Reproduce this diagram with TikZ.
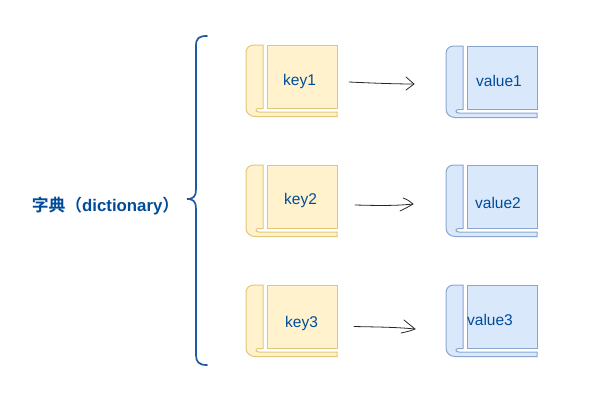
\documentclass[tikz,border=0pt]{standalone}
\usepackage{fontspec}
\setmainfont{Liberation Sans}
\newfontfamily\cjkfont{Noto Sans CJK SC}[BoldFont={* Bold}]
\definecolor{txtblue}{HTML}{004C99}
\definecolor{bracec}{HTML}{1F5A9E}
\definecolor{yfill}{HTML}{FFF2CC}
\definecolor{yline}{HTML}{E3C777}
\definecolor{bfill}{HTML}{DAE8FC}
\definecolor{bline}{HTML}{8AA6CE}
\tikzset{
  x=1pt,y=-1pt,
  yellowbook/.style={fill=yfill,draw=yline,line width=1pt},
  bluebook/.style={fill=bfill,draw=bline,line width=1pt},
  label text/.style={font=\fontsize{15.5}{18}\selectfont,text=txtblue,inner sep=0pt},
  title text/.style={font=\fontsize{16.8}{19}\selectfont\bfseries,text=txtblue,inner sep=0pt},
  hand arrow/.style={draw=black!85,line width=0.8pt,line cap=round,line join=round},
  bracket/.style={draw=bracec,line width=1.7pt,line cap=round},
  pics/book/.style={code={
    \path[#1] (17,0) -- (8,0) .. controls (3,0) and (0,3) .. (0,8) -- (0,63)
      .. controls (0,68) and (4,71.5) .. (9,71.5) -- (91,71.5) -- (91,67) -- (13,67)
      .. controls (9,67) and (9,63.5) .. (13,63.5) -- (17,63.5) -- cycle;
    \path[#1] (21.5,0) rectangle (91,63.5);
  }}
}
\begin{document}
\begin{tikzpicture}
\useasboundingbox (0,0) rectangle (601,402);
\pic at (246,45) {book=yellowbook};
\pic at (246,165) {book=yellowbook};
\pic at (246,285) {book=yellowbook};
\pic at (446,46) {book=bluebook};
\pic at (446,165) {book=bluebook};
\pic at (446,285) {book=bluebook};

\node[label text] (k1) at (299.5,81) {key1};
\node[label text] (k2) at (300.5,200) {key2};
\node[label text] (k3) at (301.5,323) {key3};
\node[label text] (v1) at (499,81) {value1};
\node[label text] (v2) at (498,203) {value2};
\node[label text] (v3) at (490,320) {value3};
\node[title text] (dict) at (105.5,206) {{\cjkfont\bfseries 字典（}dictionary{\cjkfont\bfseries ）}};

\coordinate (s1) at (349,82);
\coordinate (t1) at (414,84);
\coordinate (a1) at (406,77);
\coordinate (b1) at (406,90);
\coordinate (s2) at (355,205);
\coordinate (t2) at (413,204);
\coordinate (a2) at (403,198);
\coordinate (b2) at (400,211);
\coordinate (s3) at (354,326.5);
\coordinate (t3) at (415,329);
\coordinate (a3) at (404,320);
\coordinate (b3) at (401,333);
\draw[hand arrow] (s1) .. controls (370,83) and (395,84) .. (t1);
\draw[hand arrow] (a1) -- (t1) -- (b1);
\draw[hand arrow] (s2) .. controls (375,205.5) and (395,206) .. (t2);
\draw[hand arrow] (a2) .. controls (408,200) .. (t2) .. controls (408,207) .. (b2);
\draw[hand arrow] (s3) .. controls (375,327) and (395,327) .. (t3);
\draw[hand arrow] (a3) .. controls (409,324) .. (t3) .. controls (410,331) .. (b3);

\coordinate (bt) at (207,36);
\coordinate (bb) at (207,365);
\coordinate (bm) at (187,199);
\draw[bracket] (bt) .. controls (199,36) and (196,38) .. (196,46) -- (196,189)
  .. controls (196,196) and (194,199) .. (bm)
  .. controls (194,199) and (196,202) .. (196,209) -- (196,355)
  .. controls (196,362) and (199,365) .. (bb);
\end{tikzpicture}
\end{document}
